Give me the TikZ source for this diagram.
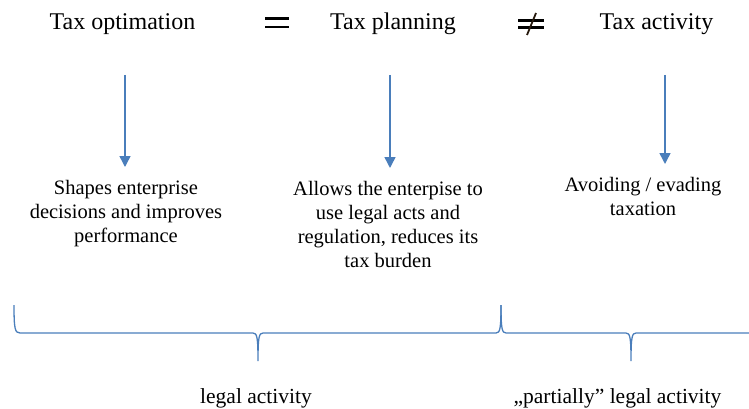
\documentclass[tikz,border=0pt]{standalone}
\usepackage{fontspec}
\setmainfont{Liberation Serif}
\usetikzlibrary{arrows.meta}
\definecolor{lineblue}{HTML}{4A7EBB}
\tikzset{
  title/.style={anchor=base, inner sep=0pt, font=\fontsize{24}{28}\selectfont},
  body/.style={anchor=north, inner sep=0pt, align=center, font=\fontsize{20.5}{24}\selectfont},
  bottomlabel/.style={anchor=base, inner sep=0pt, font=\fontsize{21.5}{26}\selectfont},
  downarrow/.style={draw=lineblue, line width=1.5pt, -{Triangle[width=11pt,length=11pt]}},
  bracepath/.style={draw=lineblue, line width=1.3pt},
  signbar/.style={draw=black, line width=2.6pt}
}
\begin{document}
\begin{tikzpicture}[x=1pt, y=-1pt]
\useasboundingbox (0,0) rectangle (749,409);

% titles
\node[title] (t1) at (122.5,30) {Tax optimation};
\node[title] (t2) at (393,30) {Tax planning};
\node[title] (t3) at (656.5,30) {Tax activity};

% equal sign
\draw[signbar] (265,18.5) -- (289,18.5);
\draw[signbar, line width=2.3pt] (265,27) -- (289,27);
% not-equal sign
\draw[signbar, line width=2.3pt] (518,20.5) -- (544,20.5);
\draw[signbar, line width=2.3pt] (518,27.5) -- (544,27.5);
\draw[draw=black!80!brown, line width=1.8pt] (527,35) -- (536,13);

% arrow coordinates
\coordinate (a1s) at (125,75);
\coordinate (a1e) at (125,167);
\coordinate (a2s) at (390,75);
\coordinate (a2e) at (390,168);
\coordinate (a3s) at (665,75);
\coordinate (a3e) at (665,164);
\draw[downarrow] (a1s) -- (a1e);
\draw[downarrow] (a2s) -- (a2e);
\draw[downarrow] (a3s) -- (a3e);

% body texts
\node[body] (b1) at (126,180) {Shapes enterprise\\decisions and improves\\performance};
\node[body] (b2) at (388,181) {Allows the enterpise to\\use legal acts and\\regulation, reduces its\\tax burden};
\node[body] (b3) at (643,177) {Avoiding / evading\\taxation};

% braces
\draw[bracepath] (14,305) .. controls (14,329) and (15,333) .. (20,333)
  -- (253,333) .. controls (257,333) and (258,337) .. (258,361)
  .. controls (258,337) and (259,333) .. (263,333)
  -- (496,333) .. controls (500,333) and (501,329) .. (501,305);
\draw[bracepath] (501,305) .. controls (501,329) and (502,333) .. (506,333)
  -- (626,333) .. controls (630,333) and (631,337) .. (631,361)
  .. controls (631,337) and (632,333) .. (636,333)
  -- (749,333);

% bottom labels
\node[bottomlabel] (l1) at (256,403) {legal activity};
\node[bottomlabel] (l2) at (617.5,403) {„partially” legal activity};
\end{tikzpicture}
\end{document}
